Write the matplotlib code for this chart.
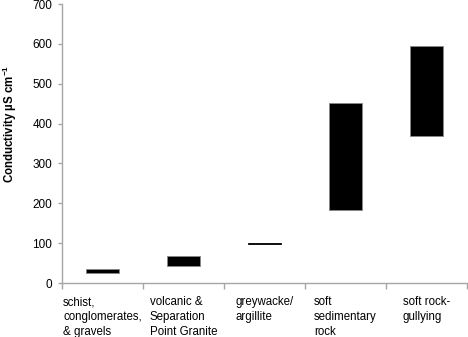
import matplotlib
matplotlib.use('Agg')
import matplotlib.pyplot as plt
import matplotlib.transforms as mtransforms
import numpy as np

plt.rcParams['font.family'] = ['Liberation Sans', 'DejaVu Sans']
plt.rcParams['mathtext.fontset'] = 'custom'
plt.rcParams['mathtext.rm'] = 'Liberation Sans'
plt.rcParams['mathtext.bf'] = 'Liberation Sans:bold'
plt.rcParams['mathtext.default'] = 'regular'

# --- data: conductivity ranges per rock type ---
categories = ['schist,\nconglomerates,\n& gravels',
              'volcanic &\nSeparation\nPoint Granite',
              'greywacke/\nargillite',
              'soft\nsedimentary\nrock',
              'soft rock-\ngullying']
low_vals = [26, 42, 99, 184, 369]
high_vals = [35, 68, 101, 451, 596]

fig = plt.figure(figsize=(4.68, 3.37), dpi=100)
ax = fig.add_axes([0.1325, 0.160, 0.8655, 0.828])

x = np.arange(len(categories)) + 0.5
heights = np.array(high_vals) - np.array(low_vals)
edges = ['#888888', '#888888', 'black', '#888888', '#888888']
ax.bar(x, heights, bottom=low_vals, width=0.4, color='black',
       edgecolor=edges, linewidth=0.6)

ax.set_xlim(0, len(categories))
ax.set_ylim(0, 700)
ax.set_yticks(range(0, 701, 100))
ax.set_xticks(range(0, len(categories) + 1))
ax.set_xticklabels([])

for side in ['top', 'right']:
    ax.spines[side].set_visible(False)
for side in ['left', 'bottom']:
    ax.spines[side].set_color('#a6a6a6')
    ax.spines[side].set_linewidth(1.0)

ax.tick_params(axis='y', length=3, width=1, color='#a6a6a6', pad=4, labelsize=8.5)
ax.tick_params(axis='x', length=4, width=1, color='#a6a6a6')

# category labels below the axis
trans = mtransforms.blended_transform_factory(ax.transData, ax.transAxes)
for xi, lab in zip(x, categories):
    ax.annotate(lab, xy=(xi, 0), xycoords=trans, xytext=(0, -9.5),
                textcoords='offset points', ha='center', va='top',
                multialignment='left', fontsize=8.3, linespacing=1.3)

fig.text(0.022, 0.632, r'Conductivity µS cm$^{-1}$', rotation=90,
         ha='center', va='center', fontsize=8.3, fontweight='bold')

fig.savefig('out.png', dpi=100)
